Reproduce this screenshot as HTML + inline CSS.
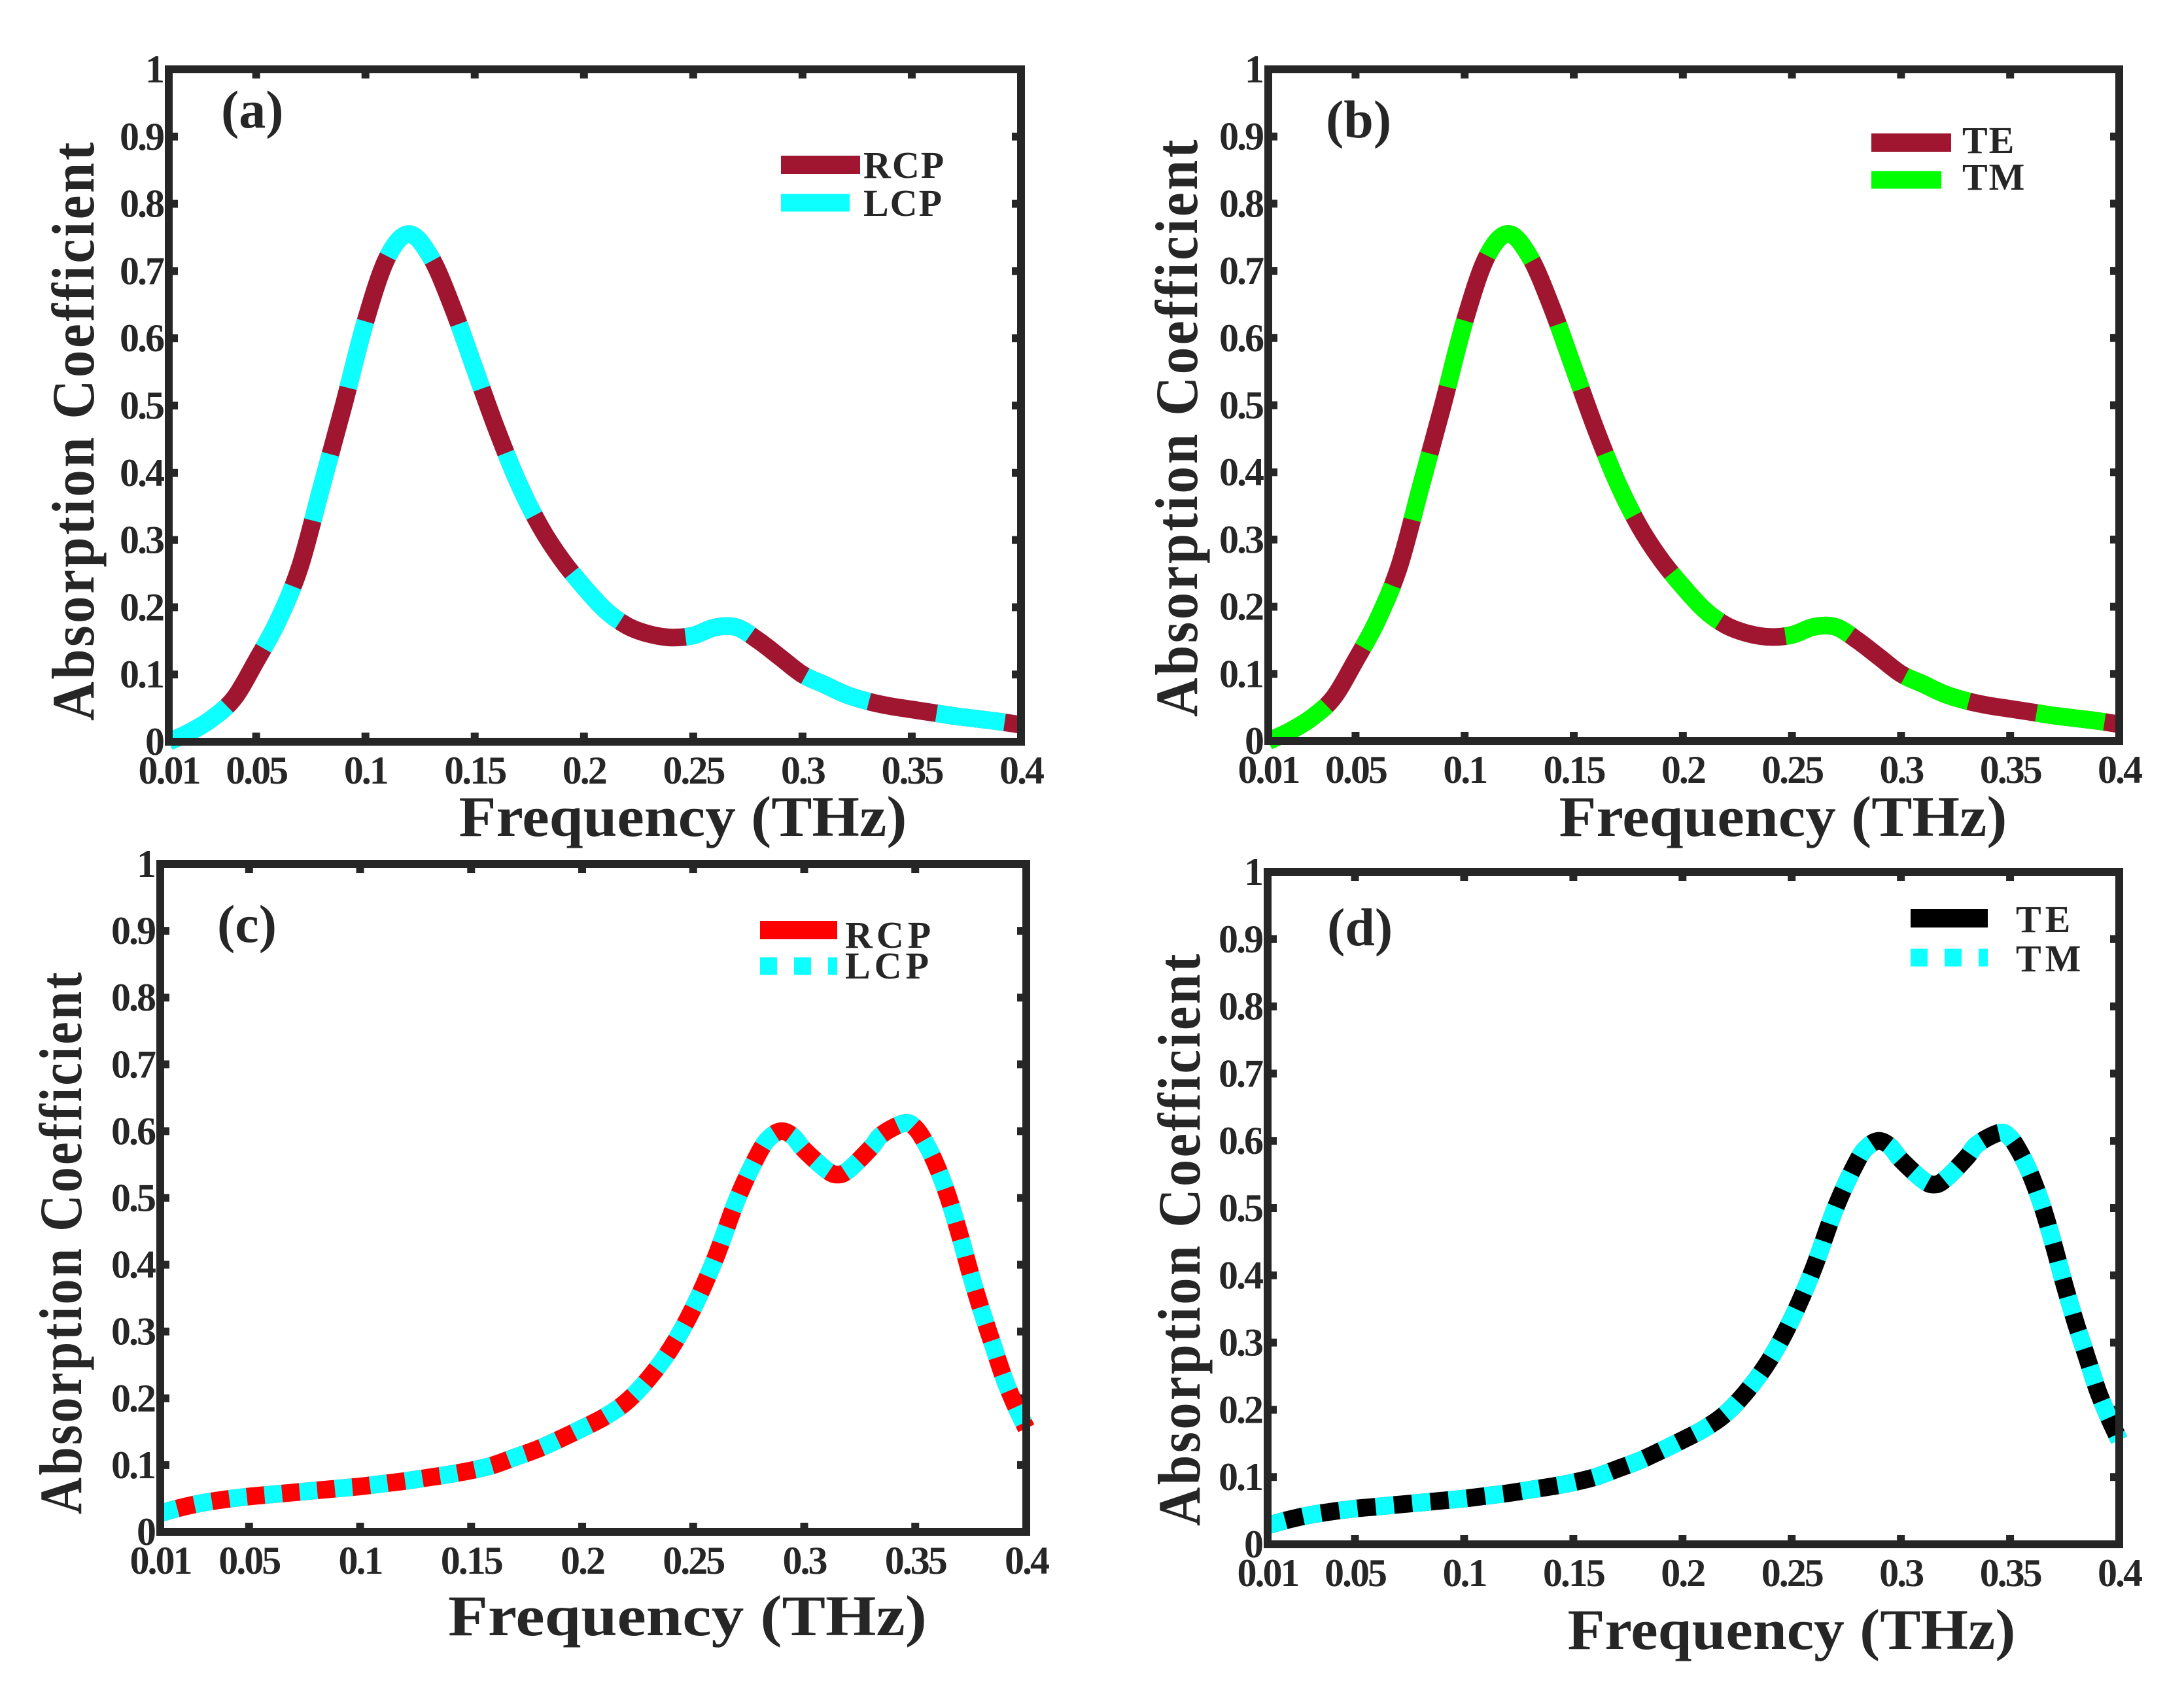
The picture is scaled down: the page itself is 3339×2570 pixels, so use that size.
<!DOCTYPE html>
<html><head><meta charset="utf-8"><style>
html,body{margin:0;padding:0;background:#fff}
svg{display:block}
text{font-family:"Liberation Serif",serif;font-weight:bold;fill:#262626}
</style></head><body>
<svg id="fig" width="3339" height="2570" viewBox="0 0 3339 2570" xmlns="http://www.w3.org/2000/svg"></svg>
<script>
const freqAB = [0.01,0.02,0.03,0.04,0.05,0.06,0.07,0.08,0.09,0.1,0.11,0.12,0.13,0.14,0.15,0.16,0.17,0.18,0.19,0.2,0.21,0.22,0.23,0.24,0.25,0.26,0.27,0.28,0.29,0.3,0.31,0.32,0.33,0.34,0.35,0.36,0.37,0.38,0.39,0.4];
const absAB = [0.0,0.015,0.035,0.065,0.12,0.18,0.26,0.38,0.5,0.625,0.72,0.755,0.72,0.645,0.555,0.465,0.385,0.32,0.27,0.23,0.195,0.172,0.16,0.155,0.158,0.17,0.17,0.15,0.125,0.1,0.085,0.07,0.06,0.053,0.048,0.043,0.038,0.034,0.03,0.025];
const freqCD = [0.01,0.02,0.03,0.04,0.05,0.06,0.07,0.08,0.09,0.1,0.11,0.12,0.13,0.14,0.15,0.16,0.17,0.18,0.19,0.2,0.21,0.22,0.23,0.24,0.25,0.26,0.27,0.28,0.285,0.29,0.295,0.3,0.31,0.315,0.32,0.33,0.335,0.345,0.35,0.355,0.36,0.365,0.37,0.375,0.38,0.385,0.39,0.395,0.4];
const absCD = [0.028,0.037,0.044,0.049,0.053,0.056,0.059,0.062,0.065,0.068,0.072,0.076,0.081,0.086,0.092,0.1,0.112,0.124,0.139,0.155,0.172,0.195,0.23,0.275,0.335,0.41,0.5,0.57,0.592,0.6,0.592,0.572,0.542,0.535,0.542,0.575,0.595,0.612,0.605,0.58,0.545,0.5,0.445,0.385,0.33,0.28,0.23,0.19,0.155];
const xTickVals = [0.05,0.1,0.15,0.2,0.25,0.3,0.35];
const xTickLabels = ["0.01","0.05","0.1","0.15","0.2","0.25","0.3","0.35","0.4"];
const xLabelVals = [0.01,0.05,0.1,0.15,0.2,0.25,0.3,0.35,0.4];
const yTickVals = [0.1,0.2,0.3,0.4,0.5,0.6,0.7,0.8,0.9];
const yLabelVals = [0,0.1,0.2,0.3,0.4,0.5,0.6,0.7,0.8,0.9,1];
const yTickLabels = ["0","0.1","0.2","0.3","0.4","0.5","0.6","0.7","0.8","0.9","1"];

const NS="http://www.w3.org/2000/svg";
const svg=document.getElementById('fig');
function mk(tag,attrs,parent){const e=document.createElementNS(NS,tag);for(const k in attrs)e.setAttribute(k,attrs[k]);(parent||svg).appendChild(e);return e;}

function smoothPath(pts){
  let d="M"+pts[0][0].toFixed(1)+","+pts[0][1].toFixed(1);
  for(let i=0;i<pts.length-1;i++){
    const p0=pts[i-1]||pts[i],p1=pts[i],p2=pts[i+1],p3=pts[i+2]||p2;
    const c1=[p1[0]+(p2[0]-p0[0])/6,p1[1]+(p2[1]-p0[1])/6];
    const c2=[p2[0]-(p3[0]-p1[0])/6,p2[1]-(p3[1]-p1[1])/6];
    d+=" C"+c1[0].toFixed(1)+","+c1[1].toFixed(1)+" "+c2[0].toFixed(1)+","+c2[1].toFixed(1)+" "+p2[0].toFixed(1)+","+p2[1].toFixed(1);
  }
  return d;
}

const panels=[
 {id:'a',L:258,R:1561,T:106,B:1134,xs:freqAB,ys:absAB,c1:'#A0152F',c2:'#0DFFFF',dash:'105 105',n1:'RCP',n2:'LCP',ls:2,
  lab:[338,195],leg:{x1:1194,x2:1315,x2b:1299,y1:252,y2:310,tx:1320,ty1:272,ty2:330,dashed:false},
  yt:{x:143,cy:658,len:888},xt:{cx:1044,y:1278,len:685}},
 {id:'b',L:1939,R:3240,T:106,B:1133,xs:freqAB,ys:absAB,c1:'#A0152F',c2:'#00FF00',dash:'105 105',n1:'TE',n2:'TM',ls:2,
  lab:[2027,210],leg:{x1:2861,x2:2983,x2b:2968,y1:218,y2:275,tx:3000,ty1:234,ty2:290,dashed:false},
  yt:{x:1830,cy:653,len:886},xt:{cx:2726,y:1278,len:685}},
 {id:'c',L:245,R:1569,T:1321,B:2342,xs:freqCD,ys:absCD,c1:'#FF0000',c2:'#0DFFFF',dash:'27 27',n1:'RCP',n2:'LCP',ls:6,
  lab:[332,1440],leg:{x1:1162,x2:1280,x2b:1280,y1:1422,y2:1477,tx:1292,ty1:1449,ty2:1496,dashed:true},
  yt:{x:124,cy:1899,len:832},xt:{cx:1051,y:2500,len:732}},
 {id:'d',L:1938,R:3240,T:1333,B:2361,xs:freqCD,ys:absCD,c1:'#000000',c2:'#0DFFFF',dash:'28 28',n1:'TE',n2:'TM',ls:6,
  lab:[2029,1445],leg:{x1:2921,x2:3039,x2b:3039,y1:1404,y2:1464,tx:3082,ty1:1425,ty2:1485,dashed:true},
  yt:{x:1834,cy:1894,len:878},xt:{cx:2739,y:2521,len:685}}
];

panels.forEach(p=>{
  const g=mk('g',{});
  
  
  const sx=v=>p.L+(v-0.01)/(0.4-0.01)*(p.R-p.L);
  const sy=v=>p.B-v*(p.B-p.T);
  xTickVals.forEach(v=>{
    const t1=mk('line',{x1:sx(v),x2:sx(v),y1:p.B,y2:p.B-14,stroke:'#262626','stroke-width':12},g);
    
    
    const t2=mk('line',{x1:sx(v),x2:sx(v),y1:p.T,y2:p.T+14,stroke:'#262626','stroke-width':12},g);
    
    
  });
  yTickVals.forEach(v=>{
    const t1=mk('line',{x1:p.L,x2:p.L+14,y1:sy(v),y2:sy(v),stroke:'#262626','stroke-width':12},g);
    
    
    const t2=mk('line',{x1:p.R,x2:p.R-14,y1:sy(v),y2:sy(v),stroke:'#262626','stroke-width':12},g);
    
    
  });
  const pts=p.xs.map((x,i)=>[sx(x),sy(p.ys[i])]);
  const d=smoothPath(pts);
  const s1=mk('path',{d:d,fill:'none',stroke:p.c1,'stroke-width':27},g);
  
  
  const s2=mk('path',{d:d,fill:'none',stroke:p.c2,'stroke-width':27,'stroke-dasharray':p.dash},g);
  
  
  const fr=mk('rect',{x:p.L,y:p.T,width:p.R-p.L,height:p.B-p.T,fill:'none',stroke:'#262626','stroke-width':12},g);
  
  
  xLabelVals.forEach((v,i)=>{
    const t=mk('text',{x:sx(v),y:p.B+64,'font-size':60,'text-anchor':'middle','letter-spacing':-3},g);
    t.textContent=xTickLabels[i];
    
    
  });
  yLabelVals.forEach((v,i)=>{
    const t=mk('text',{x:p.L-9,y:sy(v)+20,'font-size':60,'text-anchor':'end','letter-spacing':-3},g);
    t.textContent=yTickLabels[i];
    
    
  });
  const yt=mk('text',{x:0,y:0,'font-size':92,'text-anchor':'middle','letter-spacing':4,textLength:p.yt.len,lengthAdjust:'spacingAndGlyphs',transform:'translate('+p.yt.x+','+p.yt.cy+') rotate(-90)'},g);
  yt.textContent='Absorption Coefficient';
  
  
  const xt=mk('text',{x:p.xt.cx,y:p.xt.y,'font-size':88,'text-anchor':'middle',textLength:p.xt.len,lengthAdjust:'spacingAndGlyphs'},g);
  xt.textContent='Frequency (THz)';
  
  
  const pl=mk('text',{x:p.lab[0],y:p.lab[1],'font-size':82},g);
  pl.textContent='('+p.id+')';
  
  
  const lg=p.leg;
  const l1=mk('line',{x1:lg.x1,x2:lg.x2,y1:lg.y1,y2:lg.y1,stroke:p.c1,'stroke-width':28},g);
  
  
  const l2attrs={x1:lg.x1,x2:lg.x2b,y1:lg.y2,y2:lg.y2,stroke:p.c2,'stroke-width':27};
  if(lg.dashed) l2attrs['stroke-dasharray']='26 26';
  const l2=mk('line',l2attrs,g);
  
  
  const lt1=mk('text',{x:lg.tx,y:lg.ty1,'font-size':58,fill:'#000','letter-spacing':p.ls},g);
  lt1.textContent=p.n1;
  
  
  const lt2=mk('text',{x:lg.tx,y:lg.ty2,'font-size':58,fill:'#000','letter-spacing':p.ls},g);
  lt2.textContent=p.n2;
  
  
});
</script>
</body></html>
